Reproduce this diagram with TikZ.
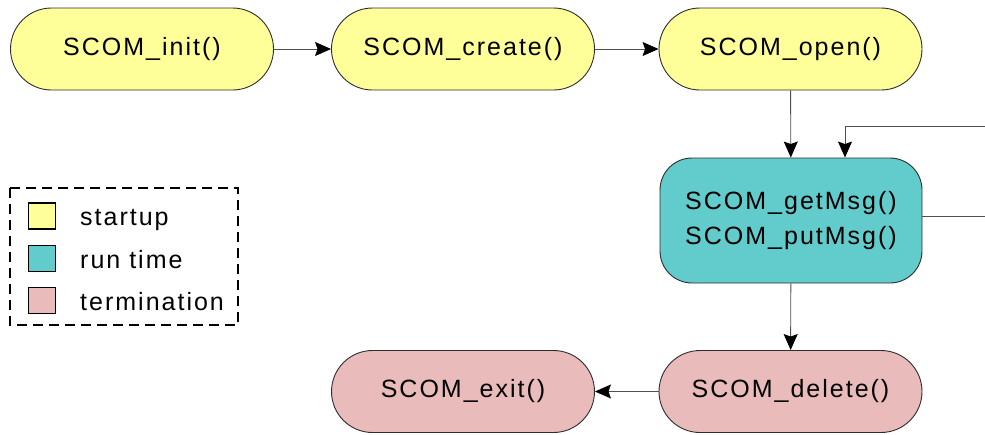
\documentclass[tikz,border=0pt]{standalone}
\usepackage{fontspec}
\setmainfont{Liberation Sans}[LetterSpace=8]
\usetikzlibrary{arrows.meta}

\definecolor{startupfill}{RGB}{255,255,153}
\definecolor{runfill}{RGB}{98,203,203}
\definecolor{termfill}{RGB}{233,187,187}
\definecolor{edgegray}{RGB}{45,45,45}
\definecolor{linegray}{RGB}{80,80,80}

\tikzset{
  x=1pt, y=-1pt,
  every node/.style={font=\fontsize{25}{35}\selectfont},
  callbox/.style={draw=edgegray, line width=0.9pt, minimum width=263pt,
    minimum height=82pt, rounded corners=41pt, inner sep=0pt, align=center},
  runbox/.style={draw=edgegray, line width=0.9pt, minimum width=262pt,
    minimum height=125pt, rounded corners=32pt, inner sep=0pt, align=center,
    fill=runfill},
  arr/.style={draw=linegray, line width=0.9pt,
    -{Stealth[length=16pt,width=14pt,inset=2.5pt,color=black]}},
  plainline/.style={draw=linegray, line width=0.9pt},
  swatch/.style={draw=black, line width=1.4pt, minimum width=27pt,
    minimum height=26pt, inner sep=0pt},
  legendtext/.style={anchor=base west, inner sep=0pt},
}

\begin{document}
\begin{tikzpicture}
\useasboundingbox (0,0) rectangle (985,434);

% startup calls
\node[callbox, fill=startupfill] (init)   at (142,49)   {SCOM\_init()};
\node[callbox, fill=startupfill] (create) at (463,49)   {SCOM\_create()};
\node[callbox, fill=startupfill] (open)   at (790.5,49) {SCOM\_open()};

% run time calls
\node[runbox] (msg) at (791,220.5) {SCOM\_getMsg()\\SCOM\_putMsg()};

% termination calls
\node[callbox, fill=termfill] (delete) at (790.5,391.5) {SCOM\_delete()};
\node[callbox, fill=termfill] (exit)   at (463,391.5)   {SCOM\_exit()};

% call sequence
\draw[arr] (init) -- (create);
\draw[arr] (create) -- (open);
\draw[arr] (open) -- (msg);
\draw[arr] (msg) -- (delete);
\draw[arr] (delete) -- (exit);

% message loop leaving on the right
\coordinate (loopout) at (985,216.5);
\coordinate (loopin)  at (985,126);
\draw[plainline] ([yshift=4pt]msg.east) -- (loopout);
\draw[arr] (loopin) -| ([xshift=54pt]msg.north);

% legend
\draw[black, line width=1.4pt, dash pattern=on 10pt off 6pt]
  (10,188) rectangle (238,325);
\node[swatch, fill=startupfill] (swstart) at (42,216) {};
\node[swatch, fill=runfill]     (swrun)   at (42,258.5) {};
\node[swatch, fill=termfill]    (swterm)  at (42,300.5) {};
\node[legendtext] (lgstart) at (80,225) {startup};
\node[legendtext] (lgrun)   at (80,268) {run time};
\node[legendtext] (lgterm)  at (80,310) {termination};
\end{tikzpicture}
\end{document}
